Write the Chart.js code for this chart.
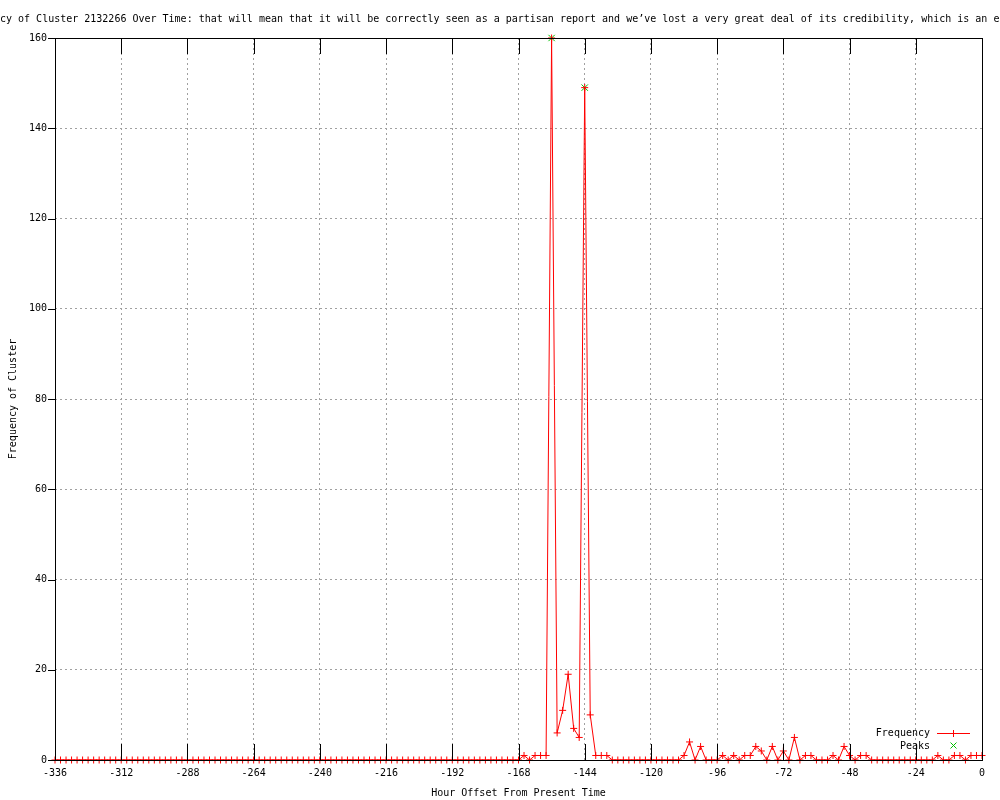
<!DOCTYPE html>
<html>
<head>
<meta charset="utf-8">
<script src="https://cdn.jsdelivr.net/npm/chart.js@4/dist/chart.umd.min.js"></script>
<style>
  html, body { margin: 0; padding: 0; background: #fff; }
  canvas { display: block; }
</style>
</head>
<body>
<canvas id="ClusterChart" width="1000" height="800"></canvas>
<script>
// hour offsets run from -336 to 0 in steps of 2
const startHour = -336;
const hourStep = 2;

// one row per 24 hours
const frequency = [
  0, 0, 0, 0, 0, 0, 0, 0, 0, 0, 0, 0,         // -336
  0, 0, 0, 0, 0, 0, 0, 0, 0, 0, 0, 0,         // -312
  0, 0, 0, 0, 0, 0, 0, 0, 0, 0, 0, 0,         // -288
  0, 0, 0, 0, 0, 0, 0, 0, 0, 0, 0, 0,         // -264
  0, 0, 0, 0, 0, 0, 0, 0, 0, 0, 0, 0,         // -240
  0, 0, 0, 0, 0, 0, 0, 0, 0, 0, 0, 0,         // -216
  0, 0, 0, 0, 0, 0, 0, 0, 0, 0, 0, 0,         // -192
  0, 1, 0, 1, 1, 1, 160, 6, 11, 19, 7, 5,     // -168
  149, 10, 1, 1, 1, 0, 0, 0, 0, 0, 0, 0,      // -144
  0, 0, 0, 0, 0, 0, 1, 4, 0, 3, 0, 0,         // -120
  0, 1, 0, 1, 0, 1, 1, 3, 2, 0, 3, 0,         // -96
  2, 0, 5, 0, 1, 1, 0, 0, 0, 1, 0, 3,         // -72
  1, 0, 1, 1, 0, 0, 0, 0, 0, 0, 0, 0,         // -48
  0, 0, 0, 0, 1, 0, 0, 1, 1, 0, 1, 1,         // -24
  1,                                          // 0
];

const peakHours = [-156, -144];
const peakValues = [160, 149];

const xTicks = { min: -336, max: 0, step: 24 };
const yTicks = { min: 0, max: 160, step: 20 };

const titleText = "Frequency of Cluster 2132266 Over Time: that will mean that it will be correctly seen as a partisan report and we\u2019ve lost a very great deal of its credibility, which is an en";
const hiddenPrefix = 'Frequen';

const fontFamily = "'DejaVu Sans Mono', 'Liberation Mono', monospace";
const red = '#ff0000';
const green = '#00c000';

const freqPoints = frequency.map((v, i) => ({ x: startHour + i * hourStep, y: v }));
const peakPoints = peakHours.map((h, i) => ({ x: h, y: peakValues[i] }));

// title, border, tics and the legend, drawn gnuplot style
const gnuplotExtras = {
  id: 'gnuplotExtras',
  afterDatasetsDraw(chart) {
    const { ctx, chartArea, scales } = chart;
    const { left, right, top, bottom } = chartArea;
    const xTic = 16;
    const yTic = 7;
    ctx.save();
    ctx.strokeStyle = '#000';
    ctx.lineWidth = 1;
    ctx.setLineDash([]);
    ctx.strokeRect(Math.round(left) + 0.5, Math.round(top) + 0.5, Math.round(right - left), Math.round(bottom - top));

    ctx.beginPath();
    scales.x.ticks.forEach((t) => {
      const px = Math.round(scales.x.getPixelForValue(t.value)) + 0.5;
      ctx.moveTo(px, bottom);
      ctx.lineTo(px, bottom - xTic);
      ctx.moveTo(px, top);
      ctx.lineTo(px, top + xTic);
    });
    scales.y.ticks.forEach((t) => {
      const py = Math.round(scales.y.getPixelForValue(t.value)) + 0.5;
      ctx.moveTo(left, py);
      ctx.lineTo(left - yTic, py);
    });
    ctx.stroke();

    // title (wider than the canvas, so it is cut off on both sides)
    ctx.font = '10px ' + fontFamily;
    ctx.fillStyle = '#000';
    ctx.textBaseline = 'middle';
    ctx.textAlign = 'left';
    const shift = ctx.measureText(hiddenPrefix).width;
    ctx.fillText(titleText, -shift, 19);

    // legend
    ctx.textAlign = 'right';
    ctx.fillText('Frequency', 930, 733);
    ctx.fillText('Peaks', 930, 746);
    ctx.strokeStyle = red;
    ctx.beginPath();
    ctx.moveTo(937, 733.5);
    ctx.lineTo(970, 733.5);
    ctx.moveTo(953.5, 730);
    ctx.lineTo(953.5, 737);
    ctx.stroke();
    ctx.strokeStyle = green;
    ctx.beginPath();
    ctx.moveTo(950.5, 742.5);
    ctx.lineTo(956.5, 748.5);
    ctx.moveTo(956.5, 742.5);
    ctx.lineTo(950.5, 748.5);
    ctx.stroke();
    ctx.restore();
  },
};

new Chart(document.getElementById('ClusterChart').getContext('2d'), {
  type: 'line',
  data: {
    datasets: [
      {
        label: 'Frequency',
        data: freqPoints,
        borderColor: red,
        backgroundColor: red,
        borderWidth: 1,
        tension: 0,
        pointStyle: 'cross',
        pointRadius: 3.5,
        pointBorderWidth: 1,
        pointBorderColor: red,
        clip: false,
      },
      {
        label: 'Peaks',
        data: peakPoints,
        showLine: false,
        borderColor: green,
        backgroundColor: green,
        pointStyle: 'crossRot',
        pointRadius: 4.5,
        pointBorderWidth: 1,
        pointBorderColor: green,
        clip: false,
      },
    ],
  },
  options: {
    responsive: false,
    devicePixelRatio: 1,
    animation: false,
    layout: {
      padding: { top: 38, right: 18, bottom: 0, left: 0 },
    },
    plugins: {
      legend: { display: false },
      title: { display: false },
      tooltip: { enabled: false },
    },
    scales: {
      x: {
        type: 'linear',
        min: xTicks.min,
        max: xTicks.max,
        afterFit: (scale) => {
          scale.height = 40;
        },
        ticks: {
          stepSize: xTicks.step,
          color: '#000',
          padding: 7,
          maxRotation: 0,
          autoSkip: false,
          font: { family: fontFamily, size: 10 },
        },
        grid: {
          color: '#a0a0a0',
          drawTicks: false,
        },
        border: { display: false, dash: [2, 3] },
        title: {
          display: true,
          text: 'Hour Offset From Present Time',
          color: '#000',
          padding: { top: 0, bottom: 1 },
          font: { family: fontFamily, size: 10 },
        },
      },
      y: {
        type: 'linear',
        min: yTicks.min,
        max: yTicks.max,
        afterFit: (scale) => {
          scale.width = 55;
        },
        ticks: {
          stepSize: yTicks.step,
          color: '#000',
          padding: 8,
          font: { family: fontFamily, size: 10 },
        },
        grid: {
          color: '#a0a0a0',
          drawTicks: false,
        },
        border: { display: false, dash: [2, 3] },
        title: {
          display: true,
          text: 'Frequency of Cluster',
          color: '#000',
          padding: { top: 7, bottom: 0 },
          font: { family: fontFamily, size: 10 },
        },
      },
    },
  },
  plugins: [gnuplotExtras],
});
</script>
</body>
</html>
